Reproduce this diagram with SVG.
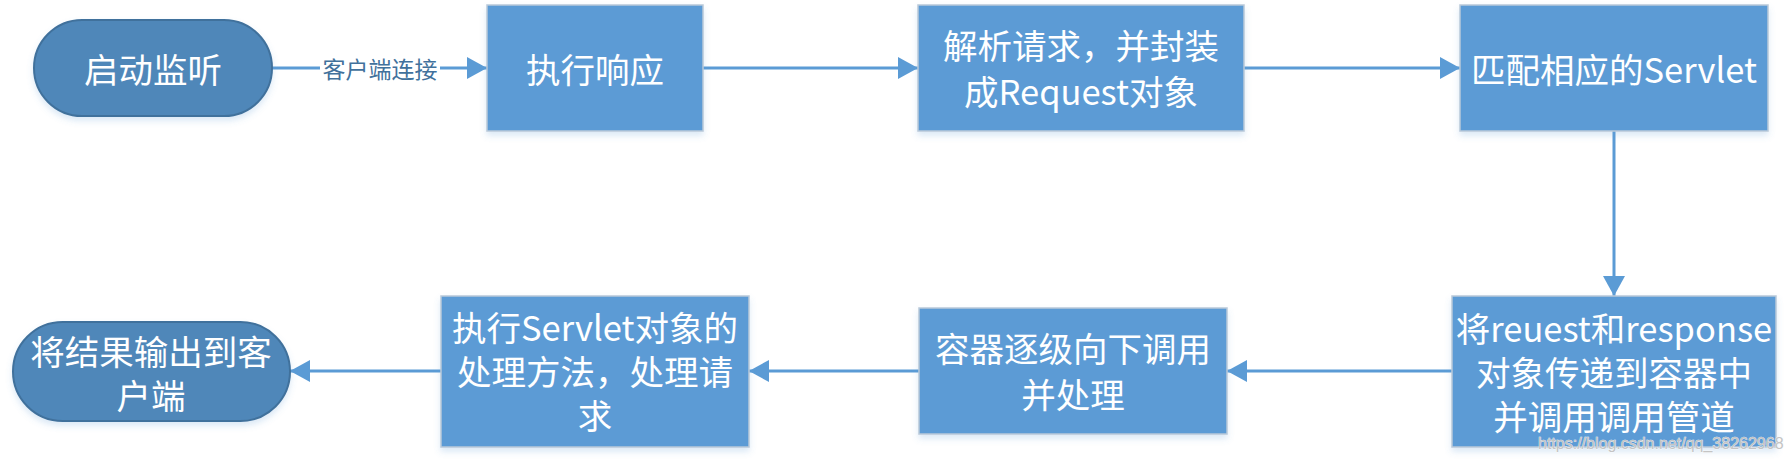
<svg xmlns="http://www.w3.org/2000/svg" width="1792" height="464" viewBox="0 0 1792 464">
  <defs>
    <filter id="sh" x="-10%" y="-10%" width="120%" height="130%">
      <feDropShadow dx="0" dy="4" stdDeviation="3" flood-color="#5b9bd5" flood-opacity="0.22"/>
    </filter>
    <marker id="ah" viewBox="0 0 20 22" refX="20" refY="11" markerWidth="20" markerHeight="22" markerUnits="userSpaceOnUse" orient="auto">
      <path d="M0,0 L20,11 L0,22 Z" fill="#5b9bd5"/>
    </marker>
  </defs>
  <style>
    .box { fill: #5b9bd5; stroke: #b9c9d9; stroke-width: 1.5; filter: url(#sh); }
    .term { fill: #4f87b9; stroke: #41719c; stroke-width: 2; filter: url(#sh); }
    .t { font-family: "Noto Sans CJK SC", sans-serif; font-size: 34.5px; fill: #ffffff; text-anchor: middle; dominant-baseline: central; }
    .lbl { font-family: "Noto Sans CJK SC", sans-serif; font-size: 23px; fill: #41719c; text-anchor: middle; dominant-baseline: central; }
    .edge { stroke: #5b9bd5; stroke-width: 3; fill: none; marker-end: url(#ah); }
    .wm { font-family: "Liberation Sans", Arial, sans-serif; font-size: 16px; fill: #c4c4c4; stroke: #ffffff; stroke-width: 0.6; paint-order: stroke; }
  </style>
  <rect width="1792" height="464" fill="#ffffff"/>

  <g id="connectors">
    <path class="edge" d="M272,68 L487,68"/>
    <rect x="320" y="54" width="120" height="28" fill="#ffffff"/>
    <text class="lbl" x="380" y="68">客户端连接</text>
    <path class="edge" d="M703,68 L918,68"/>
    <path class="edge" d="M1244,68 L1460,68"/>
    <path class="edge" d="M1614,131 L1614,296"/>
    <path class="edge" d="M1452,371 L1227,371"/>
    <path class="edge" d="M919,371 L749,371"/>
    <path class="edge" d="M441,371 L290,371"/>
  </g>

  <g id="start">
    <rect class="term" x="34" y="20" width="238" height="96" rx="48" ry="48"/>
    <text class="t" x="153" y="68">启动监听</text>
  </g>

  <g id="exec-response">
    <rect class="box" x="487" y="5" width="216" height="126"/>
    <text class="t" x="595" y="68">执行响应</text>
  </g>

  <g id="parse-request">
    <rect class="box" x="918" y="5" width="326" height="126"/>
    <text class="t" x="1081" y="44">解析请求，并封装</text>
    <text class="t" x="1081" y="90">成Request对象</text>
  </g>

  <g id="match-servlet">
    <rect class="box" x="1460" y="5" width="308" height="126"/>
    <text class="t" x="1614" y="68">匹配相应的Servlet</text>
  </g>

  <g id="pass-to-container">
    <rect class="box" x="1452" y="296" width="324" height="151"/>
    <text class="t" x="1614" y="327">将reuest和response</text>
    <text class="t" x="1614" y="371">对象传递到容器中</text>
    <text class="t" x="1614" y="415">并调用调用管道</text>
  </g>

  <g id="container-invoke">
    <rect class="box" x="919" y="308" width="308" height="126"/>
    <text class="t" x="1073" y="347">容器逐级向下调用</text>
    <text class="t" x="1073" y="393">并处理</text>
  </g>

  <g id="exec-servlet">
    <rect class="box" x="441" y="296" width="308" height="151"/>
    <text class="t" x="595" y="326">执行Servlet对象的</text>
    <text class="t" x="595" y="370">处理方法，处理请</text>
    <text class="t" x="595" y="414">求</text>
  </g>

  <g id="end">
    <rect class="term" x="13" y="322" width="277" height="99" rx="49.5" ry="49.5"/>
    <text class="t" x="151" y="350">将结果输出到客</text>
    <text class="t" x="151" y="394">户端</text>
  </g>

  <text class="wm" x="1538" y="449">https://blog.csdn.net/qq_38262968</text>
</svg>
